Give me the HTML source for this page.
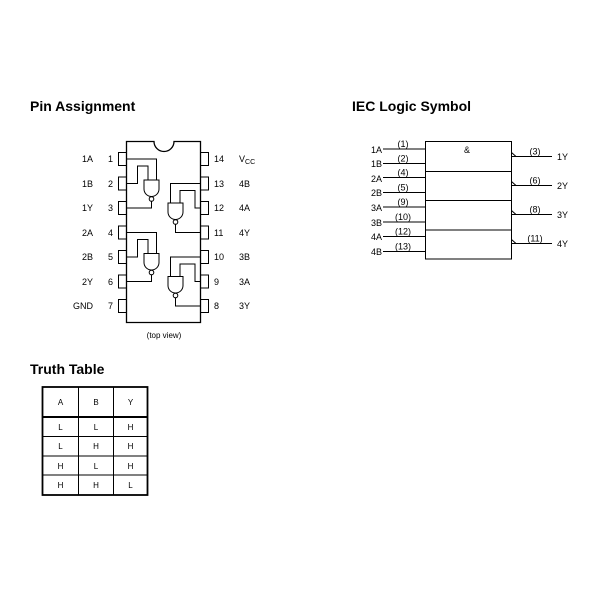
<!DOCTYPE html>
<html><head><style>body{margin:0;background:#fff}svg{display:block}</style></head><body>
<svg width="600" height="600" viewBox="0 0 600 600" xmlns="http://www.w3.org/2000/svg" font-family="Liberation Sans, sans-serif">
<rect width="600" height="600" fill="#fff"/>
<g font-weight="bold" font-size="14" fill="#000">
<text x="30" y="111">Pin Assignment</text>
<text x="352" y="111">IEC Logic Symbol</text>
<text x="30" y="374">Truth Table</text>
</g>
<g stroke="#000" stroke-width="1" fill="none">
<path d="M126.5 141.5 H154 A10 10 0 0 0 174 141.5 H200.5 V322.5 H126.5 Z" stroke-width="1.3"/>
<!-- pin boxes -->
<g>
<rect x="118.5" y="152.5" width="8" height="13"/><rect x="118.5" y="177" width="8" height="13"/><rect x="118.5" y="201.5" width="8" height="13"/><rect x="118.5" y="226" width="8" height="13"/><rect x="118.5" y="250.5" width="8" height="13"/><rect x="118.5" y="275" width="8" height="13"/><rect x="118.5" y="299.5" width="8" height="13"/>
<rect x="200.5" y="152.5" width="8" height="13"/><rect x="200.5" y="177" width="8" height="13"/><rect x="200.5" y="201.5" width="8" height="13"/><rect x="200.5" y="226" width="8" height="13"/><rect x="200.5" y="250.5" width="8" height="13"/><rect x="200.5" y="275" width="8" height="13"/><rect x="200.5" y="299.5" width="8" height="13"/>
</g>
<!-- gate 1 & 3 -->
<g id="g1">
<path d="M127 159 H156.5 V180"/>
<path d="M127 183.5 H137.5 V166 H148 V180"/>
<path d="M144 180 H159 V189 A7.5 7.5 0 0 1 144 189 Z"/>
<circle cx="151.5" cy="199" r="2.3"/>
<path d="M151.5 201.3 V208 H127"/>
</g>
<g transform="translate(0,73.5)">
<path d="M127 159 H156.5 V180"/>
<path d="M127 183.5 H137.5 V166 H148 V180"/>
<path d="M144 180 H159 V189 A7.5 7.5 0 0 1 144 189 Z"/>
<circle cx="151.5" cy="199" r="2.3"/>
<path d="M151.5 201.3 V208 H127"/>
</g>
<g id="g2">
<path d="M200 183.5 H170.5 V203"/>
<path d="M200 208 H195 V190.5 H180 V203"/>
<path d="M168 203 H183 V212 A7.5 7.5 0 0 1 168 212 Z"/>
<circle cx="175.5" cy="222" r="2.3"/>
<path d="M175.5 224.3 V232.5 H200"/>
</g>
<g transform="translate(0,73.5)">
<path d="M200 183.5 H170.5 V203"/>
<path d="M200 208 H195 V190.5 H180 V203"/>
<path d="M168 203 H183 V212 A7.5 7.5 0 0 1 168 212 Z"/>
<circle cx="175.5" cy="222" r="2.3"/>
<path d="M175.5 224.3 V232.5 H200"/>
</g>
<!-- IEC -->
<rect x="425.5" y="141.5" width="86" height="117.5"/>
<path d="M425.5 171.5 H511.5 M425.5 200.5 H511.5 M425.5 230 H511.5"/>
<path d="M383 149 H425 M383 163.5 H425 M383 177.5 H425 M383 192.5 H425 M383 207 H425 M383 222 H425 M383 236.5 H425 M383 251.5 H425"/>
<path d="M511.5 156.5 H552 M511.5 185.5 H552 M511.5 214.5 H552 M511.5 243.5 H552"/>
<path d="M511.5 152.5 L516 156.5 M511.5 181.5 L516 185.5 M511.5 210.5 L516 214.5 M511.5 239.5 L516 243.5"/>
<!-- table -->
<rect x="42.5" y="387" width="105" height="108" stroke-width="1.8"/>
<path d="M78.5 387 V495 M113.5 387 V495 M42.5 436.5 H147.5 M42.5 456 H147.5 M42.5 475 H147.5"/>
<path d="M42.5 417 H147.5" stroke-width="2"/>
</g>
<g font-size="9" fill="#000">
<g text-anchor="end">
<text x="93" y="162">1A</text><text x="93" y="187">1B</text><text x="93" y="211">1Y</text><text x="93" y="236">2A</text><text x="93" y="260">2B</text><text x="93" y="285">2Y</text><text x="93" y="309">GND</text>
<text x="113" y="162">1</text><text x="113" y="187">2</text><text x="113" y="211">3</text><text x="113" y="236">4</text><text x="113" y="260">5</text><text x="113" y="285">6</text><text x="113" y="309">7</text>
</g>
<text x="214" y="162">14</text><text x="214" y="187">13</text><text x="214" y="211">12</text><text x="214" y="236">11</text><text x="214" y="260">10</text><text x="214" y="285">9</text><text x="214" y="309">8</text>
<text x="239" y="162">V<tspan font-size="7" dy="2">CC</tspan></text><text x="239" y="187">4B</text><text x="239" y="211">4A</text><text x="239" y="236">4Y</text><text x="239" y="260">3B</text><text x="239" y="285">3A</text><text x="239" y="309">3Y</text>
<text x="164" y="338" text-anchor="middle" font-size="8">(top view)</text>
<g text-anchor="end">
<text x="382" y="153">1A</text><text x="382" y="167">1B</text><text x="382" y="182">2A</text><text x="382" y="196">2B</text><text x="382" y="211">3A</text><text x="382" y="226">3B</text><text x="382" y="240">4A</text><text x="382" y="255">4B</text>
</g>
<g text-anchor="middle">
<text x="403" y="147">(1)</text><text x="403" y="161.5">(2)</text><text x="403" y="175.5">(4)</text><text x="403" y="190.5">(5)</text><text x="403" y="205">(9)</text><text x="403" y="220">(10)</text><text x="403" y="234.5">(12)</text><text x="403" y="249.5">(13)</text>
<text x="535" y="154.5">(3)</text><text x="535" y="183.5">(6)</text><text x="535" y="212.5">(8)</text><text x="535" y="241.5">(11)</text>
<text x="467" y="153">&amp;</text>
</g>
<text x="557" y="160">1Y</text><text x="557" y="189">2Y</text><text x="557" y="218">3Y</text><text x="557" y="247">4Y</text>
<g text-anchor="middle" font-size="8">
<text x="60.5" y="405">A</text><text x="96" y="405">B</text><text x="130.5" y="405">Y</text>
<text x="60.5" y="430">L</text><text x="96" y="430">L</text><text x="130.5" y="430">H</text>
<text x="60.5" y="449">L</text><text x="96" y="449">H</text><text x="130.5" y="449">H</text>
<text x="60.5" y="469">H</text><text x="96" y="469">L</text><text x="130.5" y="469">H</text>
<text x="60.5" y="488">H</text><text x="96" y="488">H</text><text x="130.5" y="488">L</text>
</g>
</g>
</svg>
</body></html>
